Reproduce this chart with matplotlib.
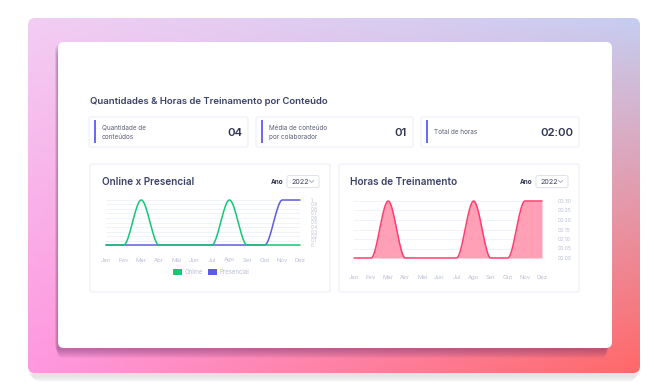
import numpy as np
import matplotlib
matplotlib.use("Agg")
import matplotlib.pyplot as plt
from matplotlib.patches import FancyBboxPatch, Rectangle, Patch

# data
meses = ["Jan", "Fev", "Mar", "Abr", "Mai", "Jun", "Jul", "Ago", "Set", "Out", "Nov", "Dez"]
online = [0, 0, 1, 0, 0, 0, 0, 1, 0, 0, 0, 0]
presencial = [0, 0, 0, 0, 0, 0, 0, 0, 0, 0, 1, 1]
horas_min = [0, 0, 30, 0, 0, 0, 0, 30, 0, 0, 30, 30]
kpi_labels = ["Quantidade de\nconteúdos", "Média de conteúdo\npor colaborador", "Total de horas"]
kpi_values = ["04", "01", "02:00"]

W, H = 670, 390
plt.rcParams['font.family'] = ['Inter', 'DejaVu Sans']

TITLE = "#3b4266"
AXIS_TXT = "#b9bfd4"
GRID = "#eef1f9"
GREEN = "#14c874"
PURPLE = "#5c5ce0"
PINK = "#ff3d6c"
PINK_FILL = "#ff8fab"


def box(x0, y0, x1, y1):
    # pixel box (top-left origin) -> figure fraction
    return [x0 / W, 1 - y1 / H, (x1 - x0) / W, (y1 - y0) / H]


def smooth(y, n=30):
    # monotone cubic (Fritsch-Carlson) for drawing the curve
    y = np.asarray(y, float)
    x = np.arange(len(y))
    d = np.diff(y)
    m = np.zeros_like(y)
    m[0], m[-1] = d[0], d[-1]
    for i in range(1, len(y) - 1):
        if d[i - 1] * d[i] > 0:
            m[i] = 2 / (1 / d[i - 1] + 1 / d[i])
    xs, ys = [], []
    for i in range(len(y) - 1):
        t = np.linspace(0, 1, n, endpoint=(i == len(y) - 2))
        h00 = 2 * t**3 - 3 * t**2 + 1
        h10 = t**3 - 2 * t**2 + t
        h01 = -2 * t**3 + 3 * t**2
        h11 = t**3 - t**2
        xs.append(x[i] + t)
        ys.append(h00 * y[i] + h10 * m[i] + h01 * y[i + 1] + h11 * m[i + 1])
    return np.concatenate(xs), np.concatenate(ys)


fig = plt.figure(figsize=(W / 100, H / 100), dpi=100)
fig.patch.set_facecolor("white")
bg = fig.add_axes([0, 0, 1, 1])
bg.set_xlim(0, W)
bg.set_ylim(H, 0)
bg.axis("off")

# outer shadow
for k in range(6):
    bg.add_patch(FancyBboxPatch((28 + k, 22 + k), 612 - 2 * k, 355, boxstyle="round,pad=0,rounding_size=7",
                                fc="#8a8a8a", ec="none", alpha=0.04))

# gradient frame
tl, tr = np.array([243, 205, 243]), np.array([198, 205, 240])
bl, br = np.array([255, 152, 224]), np.array([255, 104, 104])
u = np.linspace(0, 1, 200)[None, :, None]
v = np.linspace(0, 1, 120)[:, None, None]
grad = ((1 - v) * ((1 - u) * tl + u * tr) + v * ((1 - u) * bl + u * br)) / 255
frame = FancyBboxPatch((28, 18), 612, 355, boxstyle="round,pad=0,rounding_size=7", fc="none", ec="none")
bg.add_patch(frame)
im = bg.imshow(grad, extent=[28, 640, 373, 18], aspect="auto", zorder=1)
im.set_clip_path(frame)

# card shadow
for k in range(9):
    bg.add_patch(FancyBboxPatch((55 + k * 0.3, 44 + k), 554 - k * 0.6, 306, boxstyle="round,pad=0,rounding_size=6",
                                fc="#6e3470", ec="none", alpha=0.06, zorder=2))
# white card
bg.add_patch(FancyBboxPatch((58, 42), 554, 306, boxstyle="round,pad=0,rounding_size=6",
                            fc="white", ec="none", zorder=3))

bg.text(90, 101, "Quantidades & Horas de Treinamento por Conteúdo", fontsize=6.9, fontweight="semibold",
        color=TITLE, va="center", zorder=5)

# KPI boxes
kpi_x = [(89, 248), (256, 413), (421, 579)]
for (x0, x1), lab, val in zip(kpi_x, kpi_labels, kpi_values):
    bg.add_patch(FancyBboxPatch((x0, 117), x1 - x0, 30, boxstyle="round,pad=0,rounding_size=2",
                                fc="white", ec="#eef0f8", lw=0.8, zorder=4))
    bg.add_patch(Rectangle((x0 + 5, 120), 2, 23, fc="#6a6cf2", ec="none", zorder=5, snap=False))
    bg.text(x0 + 13, 132.5, lab, fontsize=4.6, color="#5a5f75", va="center", linespacing=1.6, zorder=5)
    bg.text(x1 - 6, 132.5, val, fontsize=8.2, fontweight="semibold", color="#2e3350",
            va="center", ha="right", zorder=5)

# chart cards
for x0, x1, title in [(90, 330, "Online x Presencial"), (339, 579, "Horas de Treinamento")]:
    bg.add_patch(FancyBboxPatch((x0, 164), x1 - x0, 128, boxstyle="round,pad=0,rounding_size=2",
                                fc="white", ec="#eef0f8", lw=0.8, zorder=4))
    bg.text(x0 + 11.5, 182, title, fontsize=7.2, fontweight="semibold", color=TITLE, va="center", zorder=5)
    bg.text(x1 - 59, 181.5, "Ano", fontsize=4.6, fontweight="bold", color="#2e3350", va="center", zorder=5)
    bg.add_patch(FancyBboxPatch((x1 - 43, 175.5), 32, 12, boxstyle="round,pad=0,rounding_size=2",
                                fc="white", ec="#dfe2ec", lw=0.7, zorder=5))
    bg.text(x1 - 38.5, 181.8, "2022", fontsize=5.2, color="#3a3f58", va="center", zorder=6)
    bg.plot([x1 - 20.5, x1 - 18.5, x1 - 16.5], [180.5, 182.5, 180.5], color="#9aa3bf", lw=0.6, zorder=6)

# Online x Presencial
ax1 = fig.add_axes(box(106, 200, 300, 245))
ax1.set_xlim(0, 11)
ax1.set_ylim(0, 1)
for yv in np.arange(0, 1.01, 0.1):
    ax1.axhline(yv, color=GRID, lw=0.6, zorder=0)
xs, ys = smooth(presencial)
ax1.plot(xs, ys, color=PURPLE, lw=1.1, clip_on=False, solid_capstyle="round")
xs, ys = smooth(online)
ax1.plot(xs, ys, color=GREEN, lw=1.1, clip_on=False, solid_capstyle="round")
ax1.set_yticks(np.round(np.arange(0, 1.01, 0.1), 1))
ax1.set_yticklabels(["0"] + [f"{v:.1f}" for v in np.arange(0.1, 0.95, 0.1)] + ["1"])
ax1.yaxis.tick_right()
ax1.set_xticks(range(12))
ax1.set_xticklabels(meses)
ax1.tick_params(axis="y", length=0, pad=8, labelsize=3.3, labelcolor=AXIS_TXT)
ax1.tick_params(axis="x", length=0, pad=9, labelsize=4.3, labelcolor=AXIS_TXT)
for s in ax1.spines.values():
    s.set_visible(False)
ax1.patch.set_alpha(0)
fig.legend(handles=[Patch(fc=GREEN, ec="none", label="Online"), Patch(fc=PURPLE, ec="none", label="Presencial")],
           loc="center", bbox_to_anchor=(211 / W, 1 - 272 / H), ncol=2, frameon=False, fontsize=4.4,
           labelcolor=AXIS_TXT, handlelength=1.4, handleheight=1.3, handletextpad=0.4, columnspacing=0.9)

# Horas de Treinamento
ax2 = fig.add_axes(box(354, 201, 542, 258))
ax2.set_xlim(0, 11)
ax2.set_ylim(0, 30)
for yv in range(0, 31, 5):
    ax2.axhline(yv, color=GRID, lw=0.6, zorder=0)
xs, ys = smooth(horas_min)
ax2.fill_between(xs, 0, ys, color=PINK_FILL, alpha=0.85, lw=0, zorder=1)
ax2.plot(xs, ys, color=PINK, lw=1.1, clip_on=False, zorder=2, solid_capstyle="round")
ax2.set_yticks(range(0, 31, 5))
ax2.set_yticklabels([f"00:{m:02d}" for m in range(0, 31, 5)])
ax2.yaxis.tick_right()
ax2.set_xticks(range(12))
ax2.set_xticklabels(meses)
ax2.tick_params(axis="y", length=0, pad=11, labelsize=3.6, labelcolor=AXIS_TXT)
ax2.tick_params(axis="x", length=0, pad=12, labelsize=4.3, labelcolor=AXIS_TXT)
for s in ax2.spines.values():
    s.set_visible(False)
ax2.patch.set_alpha(0)

fig.savefig("out.png", dpi=100)
